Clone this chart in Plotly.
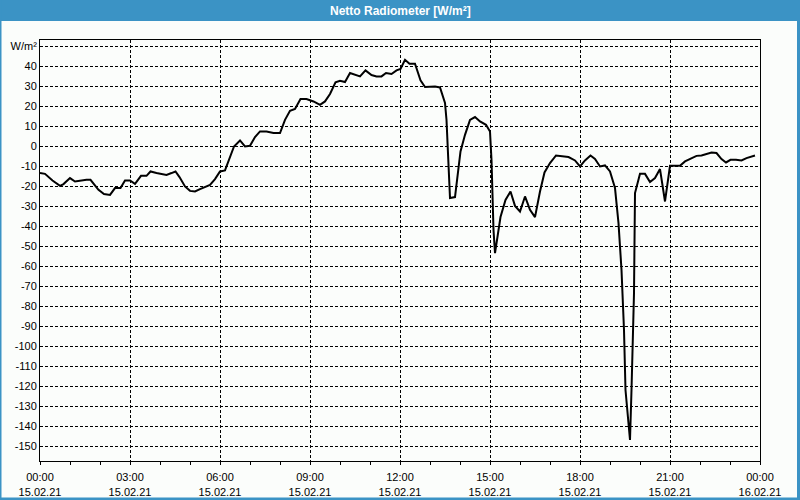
import pandas as pd
import plotly.graph_objects as go

# minutes after 15.02.21 00:00
minutes = [0, 10, 25, 40, 47, 60, 70, 83, 93, 101, 117, 128, 140, 150, 161, 170, 180, 190,
           202, 213, 221, 233, 253, 263, 271, 279, 290, 300, 310, 320, 330, 340, 350, 360,
           370, 380, 388, 400, 410, 420, 430, 440, 453, 467, 480, 490, 500, 510, 521, 533,
           547, 560, 570, 580, 591, 600, 610, 620, 630, 640, 651, 663, 673, 683, 692, 703,
           713, 721, 730, 739, 750, 755, 761, 770, 780, 790, 800, 810, 813, 820, 830, 841,
           850, 860, 870, 880, 892, 900, 903, 907, 910, 921, 931, 941, 950, 960, 970, 980,
           990, 1000, 1009, 1020, 1032, 1042, 1057, 1070, 1080, 1090, 1101, 1110, 1120, 1130,
           1140, 1150, 1157, 1163, 1168, 1171, 1175, 1180, 1183, 1185, 1188, 1190, 1200, 1210,
           1220, 1230, 1240, 1250, 1255, 1260, 1270, 1280, 1290, 1300, 1313, 1323, 1333, 1343,
           1353, 1363, 1372, 1381, 1392, 1403, 1413, 1421, 1430]
values = [-13.3, -13.7, -17.0, -19.7, -18.8, -15.8, -17.5, -17.0, -16.7, -16.7, -21.7, -23.8,
          -24.2, -20.8, -20.8, -17.0, -17.0, -18.7, -14.7, -14.7, -12.5, -13.3, -14.2, -13.3,
          -12.5, -15.3, -20.0, -22.2, -22.5, -21.3, -20.3, -19.2, -16.3, -12.5, -12.0, -4.7,
          0.0, 3.0, 0.0, 0.3, 4.7, 7.5, 7.5, 6.7, 6.7, 13.3, 17.8, 18.7, 23.7, 23.7, 22.5,
          20.8, 22.5, 26.2, 32.0, 32.8, 32.2, 36.7, 35.8, 35.0, 38.0, 35.7, 35.0, 35.0, 36.7,
          36.2, 38.0, 38.7, 43.3, 41.3, 41.3, 37.5, 33.0, 29.7, 29.7, 30.0, 29.5, 21.7, 13.3,
          -25.8, -25.3, -2.5, 5.8, 13.3, 14.7, 12.5, 10.8, 7.5, -6.7, -41.7, -53.3, -35.3,
          -26.7, -22.5, -29.7, -32.5, -25.0, -31.7, -35.3, -22.5, -13.0, -8.3, -4.5, -4.7,
          -5.3, -7.0, -10.0, -7.0, -4.5, -6.3, -10.0, -9.5, -12.5, -20.8, -38.3, -61.7, -91.7,
          -121.7, -133.3, -146.7, -121.7, -98.3, -73.3, -23.3, -13.7, -13.7, -17.8, -15.8,
          -11.3, -27.5, -19.2, -9.7, -9.7, -9.7, -7.5, -6.3, -4.7, -4.5, -3.7, -3.0, -3.3,
          -6.3, -8.0, -6.7, -6.7, -7.0, -5.8, -5.0, -4.5]

x_tick_hours = [0, 3, 6, 9, 12, 15, 18, 21, 24]
x_tick_text = ["00:00<br>15.02.21", "03:00<br>15.02.21", "06:00<br>15.02.21",
               "09:00<br>15.02.21", "12:00<br>15.02.21", "15:00<br>15.02.21",
               "18:00<br>15.02.21", "21:00<br>15.02.21", "00:00<br>16.02.21"]
y_tick_vals = list(range(-150, 60, 10))
y_tick_text = [str(v) for v in y_tick_vals[:-1]] + ["W/m²"]
title = "Netto Radiometer [W/m²]"

start = pd.Timestamp("2021-02-15 00:00")
times = [start + pd.Timedelta(minutes=m) for m in minutes]
tickvals = [start + pd.Timedelta(hours=h) for h in x_tick_hours]

W, H = 800, 500
L, R, T, B = 40, 40, 40, 39
pw, ph = W - L - R, H - T - B

def px(xp):
    return (xp - L) / pw

def py(yp):
    return 1 - (yp - T) / ph

BLUE = "#3B93C5"
BG = "#FBFDFB"
FONT = "Liberation Sans"

fig = go.Figure()
fig.add_trace(go.Scatter(x=times, y=values, mode="lines",
                         line=dict(color="black", width=2), hoverinfo="skip",
                         showlegend=False))

fig.update_layout(
    width=W, height=H,
    margin=dict(l=L, r=R, t=T, b=B, autoexpand=False),
    paper_bgcolor=BG, plot_bgcolor=BG,
    font=dict(family=FONT, size=11, color="black"),
    showlegend=False,
    xaxis=dict(
        range=[start, start + pd.Timedelta(hours=24)],
        tickvals=tickvals, ticktext=x_tick_text, automargin=False,
        showgrid=True, gridcolor="black", griddash="3px,2px", gridwidth=1,
        showline=True, linecolor="black", linewidth=1, mirror=True,
        ticks="outside", ticklen=3, tickcolor="black", ticklabelstandoff=3,
        minor=dict(dtick=3600000, ticks="outside", ticklen=3, tickcolor="black", showgrid=False),
        zeroline=False, tickfont=dict(family=FONT, size=11, color="black"),
    ),
    yaxis=dict(
        range=[-157.2, 53.2], automargin=False,
        tickvals=y_tick_vals, ticktext=y_tick_text,
        showgrid=True, gridcolor="black", griddash="3px,2px", gridwidth=1,
        showline=True, linecolor="black", linewidth=1, mirror=True,
        ticks="", ticklen=0,
        zeroline=False, tickfont=dict(family=FONT, size=11, color="black"),
    ),
    shapes=[
        # title bar
        dict(type="rect", xref="paper", yref="paper", x0=px(0), x1=px(W), y0=py(21), y1=py(0),
             fillcolor=BLUE, line=dict(width=0), layer="above"),
        # left border
        dict(type="rect", xref="paper", yref="paper", x0=px(0), x1=px(1.5), y0=py(H), y1=py(0),
             fillcolor=BLUE, line=dict(width=0), layer="above"),
        # right border
        dict(type="rect", xref="paper", yref="paper", x0=px(797), x1=px(W), y0=py(H), y1=py(0),
             fillcolor=BLUE, line=dict(width=0), layer="above"),
        # bottom border
        dict(type="rect", xref="paper", yref="paper", x0=px(0), x1=px(W), y0=py(H), y1=py(497.5),
             fillcolor=BLUE, line=dict(width=0), layer="above"),
    ],
    annotations=[
        dict(text=f"<b>{title}</b>", xref="paper", yref="paper", x=px(W / 2), y=py(10.5),
             xanchor="center", yanchor="middle", showarrow=False,
             font=dict(family=FONT, size=12, color="white")),
    ],
)

fig.write_html("out.html")
